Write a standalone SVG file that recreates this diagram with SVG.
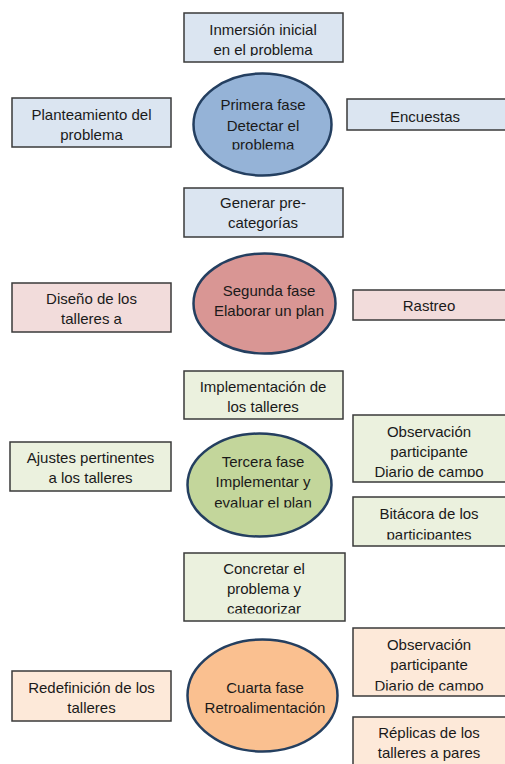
<svg xmlns="http://www.w3.org/2000/svg" width="505" height="764" viewBox="0 0 505 764">
<style>
text{font-family:"Liberation Sans",Arial,sans-serif;font-size:15px;fill:#1a1a1a;text-anchor:middle}
.box{stroke:#3a3a3a;stroke-width:1.5}
.ell{stroke:#243f60;stroke-width:2.5}
.b1{fill:#dbe5f1}.e1{fill:#95b3d7}
.b2{fill:#f2dcdb}.e2{fill:#d99694}
.b3{fill:#ebf1de}.e3{fill:#c3d69b}
.b4{fill:#fde9d9}.e4{fill:#fac090}
</style>
<defs>
<clipPath id="c1"><rect x="0" y="0" width="505" height="56"/></clipPath>
<clipPath id="c2"><rect x="0" y="60" width="505" height="89.5"/></clipPath>
<clipPath id="c3"><rect x="0" y="410" width="505" height="67"/></clipPath>
<clipPath id="c4"><rect x="0" y="430" width="505" height="77.5"/></clipPath>
<clipPath id="c5"><rect x="0" y="495" width="505" height="44.5"/></clipPath>
<clipPath id="c6"><rect x="0" y="550" width="505" height="63.5"/></clipPath>
<clipPath id="c7"><rect x="0" y="625" width="505" height="65.5"/></clipPath>
</defs>
<g id="connectors"></g>

<g id="inmersion"><rect class="box b1" x="184" y="13" width="159" height="49"/>
<g clip-path="url(#c1)"><text x="263" y="35">Inmersión inicial</text><text x="263" y="55">en el problema</text></g></g>
<g id="planteamiento"><rect class="box b1" x="12" y="98" width="159" height="49"/>
<text x="91.5" y="120">Planteamiento del</text><text x="91.5" y="140">problema</text></g>
<g id="fase1"><ellipse class="ell e1" cx="262.5" cy="124.5" rx="69" ry="51"/>
<g clip-path="url(#c2)"><text x="263" y="110">Primera fase</text><text x="263" y="131">Detectar el</text><text x="263" y="150">problema</text></g></g>
<g id="encuestas"><rect class="box b1" x="347" y="99" width="165" height="31"/>
<text x="425" y="122">Encuestas</text></g>
<g id="generar"><rect class="box b1" x="184" y="188" width="159" height="49"/>
<text x="263" y="208">Generar pre-</text><text x="263" y="228">categorías</text></g>

<g id="diseno"><rect class="box b2" x="12" y="283" width="159" height="49"/>
<text x="91.5" y="304">Diseño de los</text><text x="91.5" y="324">talleres a</text></g>
<g id="fase2"><ellipse class="ell e2" cx="264.5" cy="303.5" rx="71" ry="50"/>
<text x="269" y="296">Segunda fase</text><text x="269" y="316">Elaborar un plan</text></g>
<g id="rastreo"><rect class="box b2" x="353" y="290" width="160" height="30"/>
<text x="429" y="311">Rastreo</text></g>

<g id="implementacion"><rect class="box b3" x="184" y="371" width="159" height="48"/>
<text x="263" y="392">Implementación de</text><text x="263" y="412">los talleres</text></g>
<g id="observacion1"><rect class="box b3" x="353" y="415" width="160" height="67"/>
<g clip-path="url(#c3)"><text x="429" y="437">Observación</text><text x="429" y="457">participante</text><text x="429" y="477">Diario de campo</text></g></g>
<g id="ajustes"><rect class="box b3" x="10" y="442" width="161" height="49"/>
<text x="90.5" y="463">Ajustes pertinentes</text><text x="90.5" y="483">a los talleres</text></g>
<g id="fase3"><ellipse class="ell e3" cx="259.5" cy="485" rx="72" ry="51.5"/>
<g clip-path="url(#c4)"><text x="263" y="467">Tercera fase</text><text x="263" y="487">Implementar y</text><text x="263" y="508">evaluar el plan</text></g></g>
<g id="bitacora"><rect class="box b3" x="353" y="497" width="160" height="49"/>
<g clip-path="url(#c5)"><text x="429" y="519">Bitácora de los</text><text x="429" y="540">participantes</text></g></g>

<g id="concretar"><rect class="box b3" x="184" y="553" width="161" height="68"/>
<g clip-path="url(#c6)"><text x="264" y="574">Concretar el</text><text x="264" y="594">problema y</text><text x="264" y="614">categorizar</text></g></g>
<g id="observacion2"><rect class="box b4" x="353" y="628" width="160" height="68"/>
<g clip-path="url(#c7)"><text x="429" y="650">Observación</text><text x="429" y="670">participante</text><text x="429" y="691">Diario de campo</text></g></g>
<g id="redefinicion"><rect class="box b4" x="12" y="671" width="159" height="50"/>
<text x="91.5" y="693">Redefinición de los</text><text x="91.5" y="713">talleres</text></g>
<g id="fase4"><ellipse class="ell e4" cx="262.5" cy="695.5" rx="75" ry="56"/>
<text x="265" y="693">Cuarta fase</text><text x="265" y="713">Retroalimentación</text></g>
<g id="replicas"><rect class="box b4" x="353" y="717" width="160" height="60"/>
<text x="429" y="738">Réplicas de los</text><text x="429" y="758">talleres a pares</text></g>
</svg>
